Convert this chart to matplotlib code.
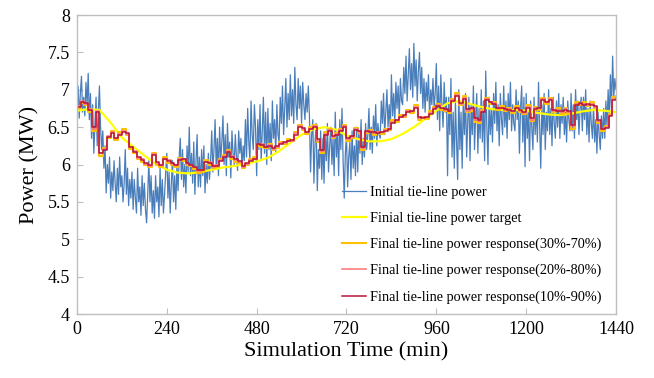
import matplotlib
matplotlib.use('Agg')
import matplotlib.pyplot as plt

plt.rcParams['font.family'] = 'Liberation Serif'

# initial tie-line power, one sample every 3 min
t_init = list(range(0, 1441, 3))
p_init = [
    6.85, 7.05, 6.62, 6.95, 7.18, 6.70, 6.90, 6.65, 7.10, 6.80,
    7.22, 6.60, 6.95, 6.35, 6.80, 6.15, 6.55, 6.90, 6.25, 6.70,
    7.05, 6.50, 6.20, 6.45, 5.95, 6.25, 5.62, 6.00, 5.75, 6.10,
    5.55, 5.90, 5.65, 6.05, 5.75, 5.50, 5.95, 5.60, 6.10, 5.70,
    5.85, 5.50, 5.75, 6.20, 5.60, 5.95, 5.45, 5.80, 5.55, 5.90,
    5.40, 5.80, 5.55, 5.35, 5.95, 5.50, 5.70, 5.32, 5.85, 5.45,
    5.75, 5.40, 5.22, 5.60, 6.05, 5.50, 5.85, 5.35, 5.65, 5.28,
    5.85, 5.50, 5.70, 5.30, 5.95, 5.45, 5.80, 5.35, 5.60, 5.90,
    6.15, 5.55, 5.90, 5.35, 5.75, 6.05, 5.50, 5.85, 5.40, 6.00,
    5.65, 6.10, 6.35, 5.80, 6.20, 5.70, 6.00, 5.62, 6.25, 5.90,
    6.50, 5.85, 6.15, 5.75, 6.30, 5.60, 6.05, 6.40, 5.70, 6.10,
    5.70, 6.20, 5.85, 6.25, 5.62, 6.00, 5.75, 6.15, 5.80, 6.05,
    6.45, 5.90, 6.20, 6.60, 5.95, 6.35, 5.85, 6.50, 6.05, 6.30,
    6.65, 6.00, 6.40, 5.85, 6.55, 6.10, 6.30, 5.82, 6.45, 6.15,
    6.00, 6.40, 6.10, 5.92, 6.45, 6.15, 6.35, 5.95, 6.25, 6.05,
    6.60, 6.10, 6.75, 6.30, 6.05, 6.85, 6.40, 6.20, 6.80, 6.50,
    5.85, 6.60, 6.20, 6.80, 6.05, 6.45, 6.90, 6.15, 6.70, 6.00,
    6.75, 6.20, 6.55, 6.05, 6.85, 6.35, 6.60, 6.15, 6.80, 6.40,
    6.30, 6.90, 6.55, 7.05, 6.40, 6.75, 7.15, 6.50, 6.95, 6.60,
    7.20, 6.65, 7.00, 6.55, 7.30, 6.80, 6.60, 7.15, 6.75, 7.05,
    6.55, 7.10, 6.80, 6.60, 6.95, 6.70, 7.05, 6.65, 5.90, 6.40,
    6.60, 5.75, 6.30, 6.55, 5.65, 6.20, 5.95, 6.45, 5.80, 6.35,
    5.75, 6.40, 6.05, 6.55, 5.90, 6.25, 6.50, 6.00, 6.35, 5.85,
    6.70, 6.10, 6.45, 5.85, 6.60, 6.20, 6.75, 6.05, 5.55, 6.15,
    6.40, 5.70, 6.10, 6.30, 5.80, 6.45, 5.95, 6.25, 5.85, 6.50,
    5.90, 6.45, 6.15, 6.60, 6.00, 6.35, 6.10, 6.55, 6.20, 6.40,
    6.75, 6.20, 6.50, 6.15, 6.65, 6.35, 6.80, 6.25, 6.55, 6.40,
    6.35, 6.85, 6.55, 6.95, 6.40, 6.70, 7.00, 6.50, 6.80, 6.45,
    7.20, 6.65, 6.95, 6.55, 7.10, 6.75, 7.05, 6.60, 7.15, 6.85,
    6.80, 7.30, 6.95, 7.45, 6.85, 7.20, 7.55, 7.00, 7.35, 6.90,
    7.62, 7.05, 7.40, 6.85, 7.25, 7.50, 6.95, 7.30, 6.75, 7.15,
    6.70, 7.10, 6.85, 7.20, 6.65, 7.00, 6.80, 7.15, 6.75, 6.95,
    7.35, 6.60, 7.05, 6.45, 7.20, 6.80, 6.50, 7.10, 6.70, 6.90,
    5.85, 6.90, 6.40, 7.15, 6.10, 6.70, 5.95, 6.85, 6.30, 5.80,
    7.00, 6.20, 6.70, 5.95, 6.85, 6.40, 6.95, 6.10, 6.60, 6.90,
    6.05, 6.80, 6.40, 7.05, 6.20, 6.65, 6.95, 6.15, 6.75, 6.35,
    7.00, 6.30, 6.85, 6.05, 7.25, 6.50, 6.00, 6.90, 6.40, 6.75,
    6.30, 6.95, 6.55, 7.10, 6.45, 6.80, 6.25, 6.95, 6.60, 6.40,
    7.05, 6.50, 6.85, 6.35, 6.95, 6.60, 7.10, 6.45, 6.80, 6.55,
    6.45, 7.00, 6.60, 6.85, 6.15, 6.75, 7.05, 6.30, 6.90, 5.97,
    6.95, 6.35, 6.70, 6.05, 6.85, 6.50, 6.20, 6.90, 6.40, 6.75,
    6.30, 7.10, 6.55, 5.95, 6.80, 6.40, 6.95, 6.20, 6.70, 6.45,
    7.00, 6.40, 6.75, 6.25, 6.90, 6.55, 6.35, 6.85, 6.50, 6.95,
    6.35, 6.80, 6.55, 6.90, 6.40, 6.70, 6.30, 6.85, 6.60, 6.45,
    6.95, 6.45, 6.80, 6.35, 7.00, 6.60, 6.85, 6.40, 6.75, 6.90,
    6.45, 6.90, 6.60, 7.00, 6.40, 6.75, 6.30, 6.85, 6.55, 6.35,
    6.80, 6.30, 6.60, 6.15, 6.70, 6.40, 6.20, 6.65, 6.35, 6.75,
    6.35, 6.85, 6.50, 7.00, 6.60, 7.20, 6.75, 7.45, 6.90, 7.15,
    7.00,
]

# final tie-line power target, every 30 min
t_target = list(range(0, 1441, 30))
p_target = [
    6.72, 6.74, 6.73, 6.56, 6.36, 6.24, 6.12, 6.01, 5.93, 5.89,
    5.88, 5.90, 5.93, 5.96, 5.98, 6.01, 6.04, 6.09, 6.18, 6.29,
    6.40, 6.47, 6.50, 6.47, 6.39, 6.34, 6.31, 6.31, 6.34, 6.41,
    6.50, 6.61, 6.72, 6.82, 6.85, 6.81, 6.77, 6.74, 6.73, 6.73,
    6.72, 6.69, 6.67, 6.66, 6.68, 6.71, 6.73, 6.72, 6.70,
]

# final tie-line power responses, every 10 min
t_resp = list(range(0, 1441, 10))
p_30_70 = [
    6.75, 6.82, 6.80, 6.70, 6.45, 6.66, 6.12, 6.22, 6.35, 6.45,
    6.33, 6.43, 6.47, 6.40, 6.21, 6.15, 6.08, 6.04, 5.99, 5.96,
    6.16, 6.00, 5.97, 6.10, 6.02, 5.99, 5.97, 6.09, 6.05, 5.99,
    5.98, 5.94, 5.88, 5.90, 6.06, 6.00, 5.95, 5.96, 6.08, 6.13,
    6.20, 6.08, 6.04, 6.02, 5.95, 6.00, 6.08, 6.10, 6.25, 6.23,
    6.22, 6.28, 6.19, 6.22, 6.30, 6.27, 6.34, 6.31, 6.44, 6.53,
    6.46, 6.41, 6.50, 6.53, 6.30, 6.16, 6.43, 6.48, 6.35, 6.42,
    6.48, 6.53, 6.32, 6.36, 6.49, 6.42, 6.20, 6.42, 6.46, 6.40,
    6.44, 6.41, 6.47, 6.46, 6.59, 6.57, 6.66, 6.63, 6.73, 6.69,
    6.79, 6.60, 6.64, 6.61, 6.71, 6.77, 6.81, 6.73, 6.71, 6.69,
    6.88, 6.95, 6.79, 6.91, 6.70, 6.72, 6.57, 6.55, 6.73, 6.89,
    6.81, 6.84, 6.73, 6.78, 6.71, 6.76, 6.69, 6.78, 6.70, 6.67,
    6.79, 6.58, 6.77, 6.73, 6.89, 6.81, 6.89, 6.70, 6.75, 6.68,
    6.76, 6.68, 6.48, 6.83, 6.79, 6.83, 6.78, 6.83, 6.75, 6.56,
    6.45, 6.52, 6.68, 6.90, 6.92,
]
p_20_80 = [
    6.78, 6.85, 6.81, 6.74, 6.48, 6.71, 6.16, 6.21, 6.38, 6.43,
    6.36, 6.41, 6.45, 6.41, 6.23, 6.18, 6.09, 6.07, 6.01, 5.98,
    6.14, 6.02, 5.99, 6.08, 6.06, 6.01, 5.99, 6.07, 6.08, 6.01,
    5.99, 5.96, 5.91, 5.92, 6.04, 6.03, 5.97, 5.99, 6.06, 6.11,
    6.18, 6.11, 6.06, 6.04, 5.97, 6.01, 6.06, 6.08, 6.27, 6.27,
    6.23, 6.26, 6.21, 6.24, 6.29, 6.29, 6.32, 6.32, 6.42, 6.51,
    6.48, 6.43, 6.48, 6.51, 6.32, 6.18, 6.41, 6.46, 6.37, 6.41,
    6.46, 6.51, 6.34, 6.37, 6.47, 6.44, 6.22, 6.44, 6.45, 6.42,
    6.43, 6.43, 6.46, 6.47, 6.57, 6.59, 6.64, 6.65, 6.71, 6.71,
    6.77, 6.62, 6.63, 6.63, 6.69, 6.75, 6.79, 6.75, 6.73, 6.71,
    6.86, 6.93, 6.81, 6.89, 6.72, 6.74, 6.60, 6.58, 6.71, 6.87,
    6.83, 6.82, 6.75, 6.76, 6.73, 6.74, 6.71, 6.76, 6.72, 6.69,
    6.77, 6.60, 6.75, 6.75, 6.87, 6.83, 6.87, 6.72, 6.73, 6.70,
    6.74, 6.70, 6.51, 6.81, 6.81, 6.81, 6.80, 6.81, 6.77, 6.58,
    6.47, 6.50, 6.66, 6.87, 6.89,
]
p_10_90 = [
    6.77, 6.84, 6.82, 6.73, 6.50, 6.70, 6.15, 6.20, 6.37, 6.42,
    6.35, 6.40, 6.44, 6.42, 6.24, 6.17, 6.10, 6.06, 6.02, 5.99,
    6.13, 6.03, 6.00, 6.07, 6.05, 6.02, 6.00, 6.06, 6.07, 6.02,
    6.00, 5.97, 5.93, 5.93, 6.03, 6.02, 5.98, 5.98, 6.05, 6.10,
    6.17, 6.10, 6.07, 6.05, 5.98, 6.02, 6.05, 6.07, 6.28, 6.26,
    6.24, 6.25, 6.22, 6.25, 6.28, 6.30, 6.31, 6.33, 6.40, 6.50,
    6.49, 6.44, 6.47, 6.50, 6.34, 6.20, 6.40, 6.45, 6.38, 6.40,
    6.45, 6.50, 6.35, 6.38, 6.46, 6.45, 6.24, 6.45, 6.44, 6.43,
    6.42, 6.44, 6.45, 6.48, 6.56, 6.60, 6.63, 6.66, 6.70, 6.72,
    6.76, 6.63, 6.62, 6.64, 6.68, 6.74, 6.78, 6.76, 6.74, 6.72,
    6.85, 6.92, 6.82, 6.88, 6.74, 6.75, 6.62, 6.60, 6.70, 6.86,
    6.84, 6.81, 6.76, 6.75, 6.74, 6.73, 6.72, 6.75, 6.73, 6.70,
    6.76, 6.62, 6.74, 6.76, 6.86, 6.84, 6.86, 6.73, 6.72, 6.71,
    6.73, 6.71, 6.53, 6.80, 6.82, 6.80, 6.81, 6.80, 6.78, 6.60,
    6.48, 6.49, 6.65, 6.86, 6.88,
]

x_ticks = [0, 240, 480, 720, 960, 1200, 1440]
y_ticks = [4, 4.5, 5, 5.5, 6, 6.5, 7, 7.5, 8]

fig = plt.figure(figsize=(6.54, 3.78), dpi=100)
ax = fig.add_axes([0.1177, 0.1693, 0.8242, 0.791])

ax.plot(t_init, p_init, color='#4A7EBB', linewidth=0.9, label='Initial tie-line power')
ax.plot(t_target, p_target, color='#FFFF00', linewidth=1.6, label='Finial tie-line power target')
ax.step(t_resp, p_30_70, where='post', color='#FFC000', linewidth=1.5,
        label='Final tie-line power response(30%-70%)')
ax.step(t_resp, p_20_80, where='post', color='#FF7C80', linewidth=1.2,
        label='Final tie-line power response(20%-80%)')
ax.step(t_resp, p_10_90, where='post', color='#B8143C', linewidth=1.1,
        label='Final tie-line power response(10%-90%)')

ax.set_xlim(0, 1440)
ax.set_ylim(4, 8)
ax.set_xticks(x_ticks)
ax.set_yticks(y_ticks)
ax.set_yticklabels(['4', '4.5', '5', '5.5', '6', '6.5', '7', '7.5', '8'])
ax.tick_params(direction='in', length=4, width=0.8, color='#BFBFBF',
               labelsize=13, pad=5)

for sp in ax.spines.values():
    sp.set_color('#BFBFBF')
    sp.set_linewidth(1.0)

ax.set_xlabel('Simulation Time (min)', fontsize=16, labelpad=3)
ax.set_ylabel('Power (MW)', fontsize=16, labelpad=6)

ax.legend(loc='upper left', bbox_to_anchor=(0.4917, 0.4290), frameon=False,
          fontsize=10.3, handlelength=1.7, handletextpad=0.25, labelspacing=0.9,
          borderpad=0, borderaxespad=0)

plt.savefig('out.png', dpi=100)
